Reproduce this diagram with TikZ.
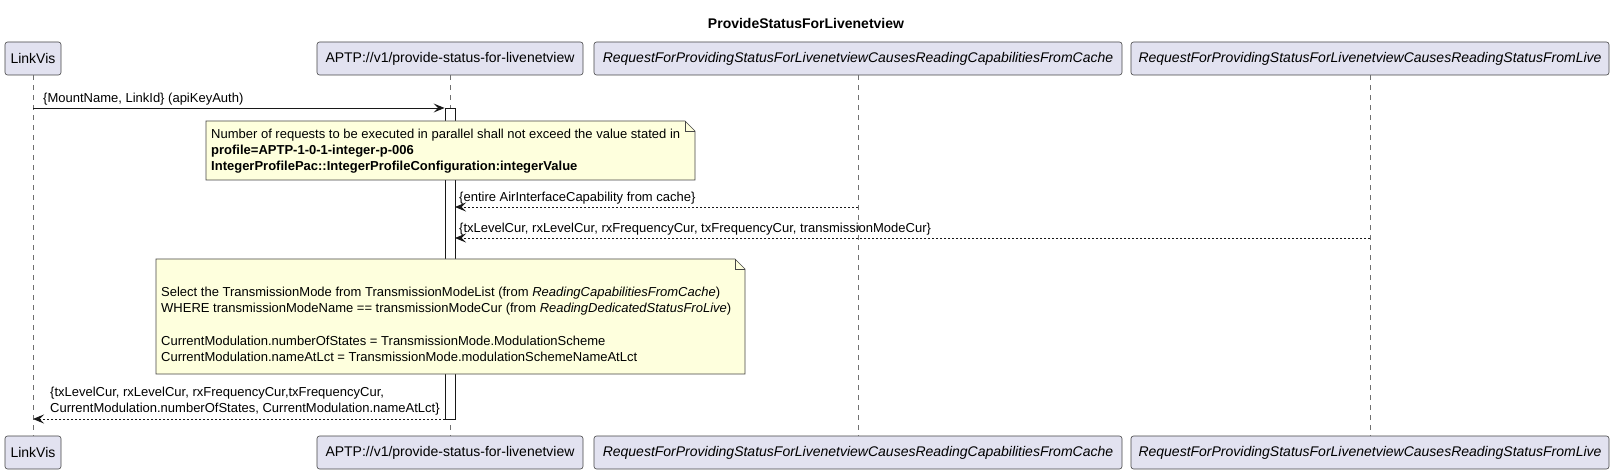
\documentclass[tikz,border=0pt]{standalone}
\usepackage{fontspec}
\setmainfont{Liberation Sans}
\usetikzlibrary{arrows.meta}
\definecolor{partfill}{HTML}{E2E2F0}
\definecolor{notefill}{HTML}{FEFFDD}
\definecolor{edgec}{HTML}{181818}
\definecolor{lifec}{HTML}{707070}
\tikzset{
  part/.style={draw=edgec!80, line width=0.6pt, fill=partfill, rounded corners=2.5pt,
    minimum height=33pt, inner sep=0pt, font=\fontsize{14}{16}\selectfont},
  lifeline/.style={draw=lifec, line width=0.6pt, dash pattern=on 5pt off 5pt},
  msg/.style={draw=edgec, line width=0.9pt, -{Stealth[length=11pt,width=9pt,inset=4.5pt]}},
  ret/.style={msg, dash pattern=on 2pt off 2pt},
  lbl/.style={font=\fontsize{13}{16}\selectfont, inner sep=0pt, anchor=base west},
  notebox/.style={draw=edgec!80, line width=0.6pt, fill=notefill},
  notetext/.style={font=\fontsize{13}{16.3}\selectfont, inner sep=0pt, anchor=north west, align=left},
  actbar/.style={draw=edgec, line width=0.9pt, fill=white}
}
\begin{document}
\begin{tikzpicture}[x=1pt,y=-1pt]
\useasboundingbox[fill=white] (0,0) rectangle (1615,473);

% title
\node[font=\fontsize{14}{16}\selectfont\bfseries] (title) at (806,23) {ProvideStatusForLivenetview};

% participants top
\node[part, minimum width=56pt] (lvT) at (33,58.5) {LinkVis};
\node[part, minimum width=266pt] (apT) at (450,58.5) {APTP://v1/provide-status-for-livenetview};
\node[part, minimum width=528pt] (caT) at (858,58.5) {\itshape RequestForProvidingStatusForLivenetviewCausesReadingCapabilitiesFromCache};
\node[part, minimum width=478pt] (liT) at (1370,58.5) {\itshape RequestForProvidingStatusForLivenetviewCausesReadingStatusFromLive};
% participants bottom
\node[part, minimum width=56pt] (lvB) at (33,452.5) {LinkVis};
\node[part, minimum width=266pt] (apB) at (450,452.5) {APTP://v1/provide-status-for-livenetview};
\node[part, minimum width=528pt] (caB) at (858,452.5) {\itshape RequestForProvidingStatusForLivenetviewCausesReadingCapabilitiesFromCache};
\node[part, minimum width=478pt] (liB) at (1370,452.5) {\itshape RequestForProvidingStatusForLivenetviewCausesReadingStatusFromLive};

% lifelines
\draw[lifeline] (lvT.south) -- (lvB.north);
\draw[lifeline] (apT.south) -- (apB.north);
\draw[lifeline] (caT.south) -- (caB.north);
\draw[lifeline] (liT.south) -- (liB.north);

% activation bar
\node[actbar, minimum width=10pt, minimum height=311pt, inner sep=0pt, anchor=north] (act) at (450,108) {};

% message 1
\coordinate (m1s) at (33,108);
\coordinate (m1e) at (act.north west);
\draw[msg] (m1s) -- (m1e);
\node[lbl] (m1l) at (43,102.5) {\{MountName, LinkId\} (apiKeyAuth)};

% note 1
\draw[notebox] (206,121) -- (685,121) -- (695,131) -- (695,180) -- (206,180) -- cycle;
\draw[edgec!80, line width=0.6pt] (685,121) -- (685,131) -- (695,131);
\node[notetext] (n1t) at (211,128.5) {Number of requests to be executed in parallel shall not exceed the value stated in\\
\textbf{profile=APTP-1-0-1-integer-p-006}\\
\textbf{IntegerProfilePac::IntegerProfileConfiguration:integerValue}};

% return from cache
\coordinate (r1s) at (858,207);
\coordinate (r1e) at (455,207);
\draw[ret] (r1s) -- (r1e);
\node[lbl] (r1l) at (459,201.5) {\{entire AirInterfaceCapability from cache\}};

% return from live
\coordinate (r2s) at (1370,238);
\coordinate (r2e) at (455,238);
\draw[ret] (r2s) -- (r2e);
\node[lbl] (r2l) at (459,232.5) {\{txLevelCur, rxLevelCur, rxFrequencyCur, txFrequencyCur, transmissionModeCur\}};

% note 2
\draw[notebox] (156,259) -- (735,259) -- (745,269) -- (745,374) -- (156,374) -- cycle;
\draw[edgec!80, line width=0.6pt] (735,259) -- (735,269) -- (745,269);
\node[notetext] (n2t) at (161,286.5) {Select the TransmissionMode from TransmissionModeList (from \textit{ReadingCapabilitiesFromCache})\\
WHERE transmissionModeName == transmissionModeCur (from \textit{ReadingDedicatedStatusFroLive})\\[16.3pt]
CurrentModulation.numberOfStates = TransmissionMode.ModulationScheme\\
CurrentModulation.nameAtLct = TransmissionMode.modulationSchemeNameAtLct};

% return to LinkVis
\coordinate (r3s) at (445,419);
\coordinate (r3e) at (33,419);
\draw[ret] (r3s) -- (r3e);
\node[notetext] (r3l) at (50,386.5) {\{txLevelCur, rxLevelCur, rxFrequencyCur,txFrequencyCur,\\
CurrentModulation.numberOfStates, CurrentModulation.nameAtLct\}};
\end{tikzpicture}
\end{document}
